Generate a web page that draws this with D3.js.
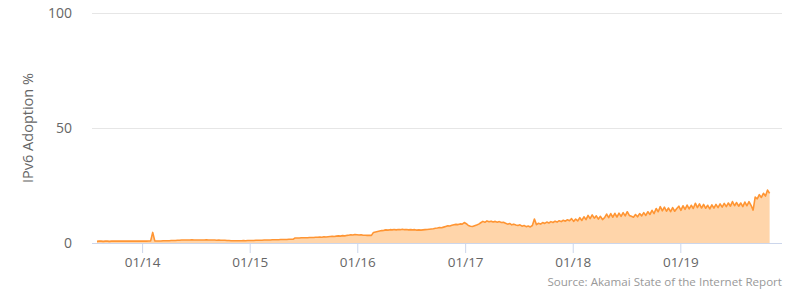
<!DOCTYPE html>
<html><head><meta charset="utf-8">
<script src="https://cdn.jsdelivr.net/npm/d3@7"></script>
<style>
html,body{margin:0;padding:0;background:#fff;}
svg{display:block;font-family:"Open Sans","Noto Sans",sans-serif;}
</style></head>
<body><svg id="chart" width="795" height="292"></svg>
<script>
// Weekly IPv6 adoption (%) starting 2013-08-01
const startDate = "2013-08-01";
const adoption = [
// 2013 Aug-Dec
0.7,0.8,0.8,0.7, 0.8,0.8,0.7,0.8,0.8, 0.8,0.8,0.8,0.8, 0.8,0.8,0.9,0.8, 0.8,0.9,0.8,0.8,0.8,
// 2014
0.8,0.8,0.8,0.9, 0.9,4.6,0.9,0.9, 0.9,0.9,1.0,1.0,1.0, 1.0,1.1,1.1,1.1, 1.2,1.2,1.3,1.3, 1.3,1.3,1.3,1.4,1.3,
1.3,1.3,1.3,1.3, 1.3,1.4,1.3,1.3, 1.3,1.3,1.2,1.3,1.2, 1.2,1.2,1.1,1.1, 1.0,1.0,1.0,1.0, 1.0,1.0,1.1,1.0,1.1,
// 2015
1.1,1.1,1.1,1.2, 1.2,1.2,1.2,1.3, 1.3,1.3,1.3,1.4,1.4, 1.4,1.4,1.5,1.5, 1.5,1.5,1.6,1.6, 1.6,2.2,2.2,2.2,2.3,
2.3,2.3,2.3,2.4, 2.4,2.4,2.5,2.5, 2.6,2.5,2.7,2.6,2.7, 2.8,2.9,2.8,3.0, 3.1,3.0,3.2,3.1, 3.3,3.4,3.6,3.5,3.7,
// 2016
3.6,3.5,3.6,3.4, 3.4,3.3,3.4,3.3, 4.6,4.8,5.0,5.2,5.4, 5.5,5.7,5.6,5.8, 5.7,5.9,5.7,5.9, 5.8,6.0,5.8,5.9,5.7,
5.8,5.7,5.8,5.6, 5.7,5.6,5.7,5.8, 5.9,6.0,6.1,6.2,6.4, 6.5,6.7,6.6,6.9, 7.2,7.5,7.4,7.7, 7.9,8.1,8.0,8.3,8.2,
// 2017
8.9,8.4,7.6,7.3, 7.2,7.5,7.8,8.2, 8.8,9.4,9.0,9.6,9.2, 9.5,9.1,9.4,9.0, 9.3,8.9,9.0,8.6, 8.2,8.5,7.9,8.2,7.8,
7.6,7.9,7.3,7.6, 7.1,7.4,7.0,7.6, 10.4,8.0,8.6,8.2,8.9, 8.5,9.1,8.7,9.3, 8.9,9.5,9.1,9.7, 9.3,9.9,9.5,10.1,9.7,
// 2018
10.6,9.4,10.4,9.6, 11.0,9.8,11.4,10.2, 12.0,10.6,12.2,10.8,11.8, 10.4,11.6,10.2,11.0, 12.6,11.0,12.8,11.2, 12.9,11.3,13.0,11.6,13.2,
11.8,13.6,12.0,11.6, 11.2,12.4,11.4,12.8, 11.8,13.2,12.0,13.6,12.4, 14.2,12.8,15.0,13.6, 15.8,14.0,15.6,13.8, 15.2,13.6,15.4,13.8,15.0,
// 2019
16.0,14.2,16.2,14.6, 16.5,14.8,16.4,15.0, 17.3,15.4,17.0,15.2,16.8, 15.1,16.4,14.8,16.6, 15.2,16.8,15.4,17.0, 15.6,17.2,15.8,17.4,16.0,
18.0,16.2,17.6,16.0, 17.4,15.8,17.8,16.2, 18.0,16.4,14.3,20.0,19.2, 21.0,19.8,21.6,20.4, 23.0,21.6
];
const xTickDates = ["2014-01-01","2015-01-01","2016-01-01","2017-01-01","2018-01-01","2019-01-01"];
const xTickLabels = ["01/14","01/15","01/16","01/17","01/18","01/19"];
const yTicks = [0, 50, 100];
const xDomain = ["2013-07-15", "2019-12-12"];
const yTitle = "IPv6 Adoption %";
const sourceText = "Source: Akamai State of the Internet Report";

const parse = d3.utcParse("%Y-%m-%d");
const t0 = parse(startDate);
const data = adoption.map((v, i) => ({date: d3.utcDay.offset(t0, i * 7), value: v}));

const svg = d3.select("#chart");
const mLeft = 92, mRight = 782, mTop = 13, mBottom = 243;
const x = d3.scaleUtc().domain(xDomain.map(parse)).range([mLeft, mRight]);
const y = d3.scaleLinear().domain([0, 100]).range([mBottom, mTop]);

// grid
svg.append("g").selectAll("line").data(yTicks.filter(d => d !== 0)).join("line")
  .attr("x1", mLeft).attr("x2", mRight)
  .attr("y1", d => Math.round(y(d)) + 0.5).attr("y2", d => Math.round(y(d)) + 0.5)
  .attr("stroke", "#e6e6e6").attr("stroke-width", 1);

// y labels
svg.append("g").selectAll("text").data(yTicks).join("text")
  .attr("x", 72).attr("y", d => y(d) + 5)
  .attr("text-anchor", "end").attr("fill", "#666").attr("font-size", "14px")
  .text(d => d);

// y title
svg.append("text")
  .attr("transform", `translate(33,${(mTop + mBottom) / 2}) rotate(-90)`)
  .attr("text-anchor", "middle").attr("fill", "#666").attr("font-size", "14.5px")
  .text(yTitle);

// area + line
const area = d3.area().x(d => x(d.date)).y0(y(0)).y1(d => y(d.value));
const line = d3.line().x(d => x(d.date)).y(d => y(d.value));
svg.append("path").datum(data).attr("d", area).attr("fill", "#ffd5aa");
svg.append("path").datum(data).attr("d", line).attr("fill", "none")
  .attr("stroke", "#ff9533").attr("stroke-width", 1.6).attr("stroke-linejoin", "round");

// x axis
const xAxis = d3.axisBottom(x).tickValues(xTickDates.map(parse))
  .tickFormat((d, i) => xTickLabels[i]).tickSize(10).tickSizeOuter(0);
const gx = svg.append("g").attr("transform", `translate(0,${mBottom})`).call(xAxis);
gx.select(".domain").attr("stroke", "#ccd6eb").attr("d", `M${mLeft},0.5H${mRight}`);
gx.selectAll(".tick line").attr("stroke", "#ccd6eb");
gx.selectAll(".tick text").attr("fill", "#666").attr("font-size", "13.5px")
  .attr("font-family", '"Open Sans","Noto Sans",sans-serif').attr("dy", "0.9em").attr("y", 12);

// source
svg.append("text").attr("x", mRight).attr("y", 286)
  .attr("text-anchor", "end").attr("fill", "#999").attr("font-size", "11.6px")
  .text(sourceText);
</script></body></html>
